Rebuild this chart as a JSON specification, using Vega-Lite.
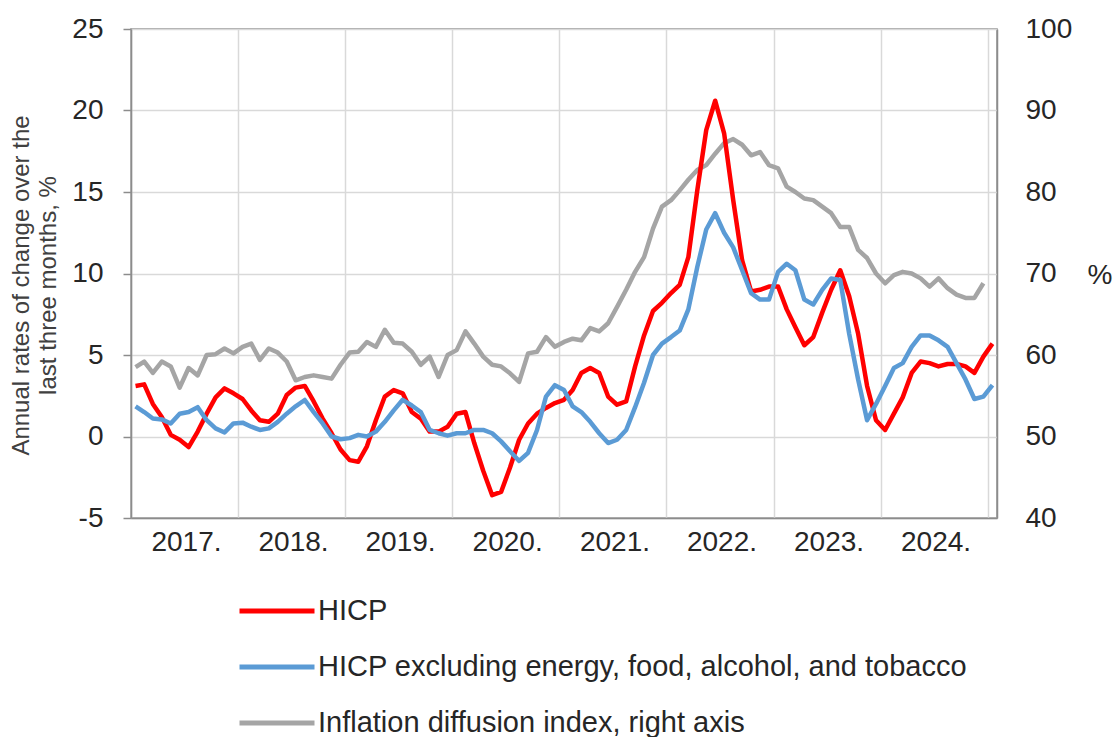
{
  "$schema": "https://vega.github.io/schema/vega-lite/v6.json",
  "width": 866,
  "height": 489,
  "autosize": {"type": "none"},
  "padding": {"left": 131, "top": 29, "right": 116, "bottom": 219},
  "background": "white",
  "config": {
    "font": "Liberation Sans",
    "view": {"stroke": "#8c8c8c", "strokeWidth": 1.5},
    "axis": {"labelColor": "#262626", "titleColor": "#404040", "labelFont": "Liberation Sans", "titleFont": "Liberation Sans", "titleFontWeight": "normal"}
  },
  "data": {"values": [
    {"month": "2017-01", "hicp": 3.1, "core": 1.85, "diff": 58.5},
    {"month": "2017-02", "hicp": 3.2, "core": 1.5, "diff": 59.2},
    {"month": "2017-03", "hicp": 2.0, "core": 1.1, "diff": 57.8},
    {"month": "2017-04", "hicp": 1.2, "core": 1.05, "diff": 59.2},
    {"month": "2017-05", "hicp": 0.1, "core": 0.8, "diff": 58.6},
    {"month": "2017-06", "hicp": -0.2, "core": 1.4, "diff": 56.0},
    {"month": "2017-07", "hicp": -0.65, "core": 1.5, "diff": 58.4},
    {"month": "2017-08", "hicp": 0.3, "core": 1.8, "diff": 57.5},
    {"month": "2017-09", "hicp": 1.4, "core": 1.0, "diff": 60.0},
    {"month": "2017-10", "hicp": 2.4, "core": 0.5, "diff": 60.1},
    {"month": "2017-11", "hicp": 2.95, "core": 0.25, "diff": 60.8},
    {"month": "2017-12", "hicp": 2.65, "core": 0.8, "diff": 60.2},
    {"month": "2018-01", "hicp": 2.3, "core": 0.85, "diff": 61.0},
    {"month": "2018-02", "hicp": 1.6, "core": 0.6, "diff": 61.4},
    {"month": "2018-03", "hicp": 1.0, "core": 0.4, "diff": 59.4},
    {"month": "2018-04", "hicp": 0.9, "core": 0.5, "diff": 60.8},
    {"month": "2018-05", "hicp": 1.4, "core": 0.9, "diff": 60.3},
    {"month": "2018-06", "hicp": 2.55, "core": 1.4, "diff": 59.2},
    {"month": "2018-07", "hicp": 3.0, "core": 1.85, "diff": 56.9},
    {"month": "2018-08", "hicp": 3.1, "core": 2.24, "diff": 57.3},
    {"month": "2018-09", "hicp": 2.15, "core": 1.5, "diff": 57.5},
    {"month": "2018-10", "hicp": 1.1, "core": 0.8, "diff": 57.3},
    {"month": "2018-11", "hicp": 0.2, "core": 0.0, "diff": 57.1},
    {"month": "2018-12", "hicp": -0.8, "core": -0.17, "diff": 58.8},
    {"month": "2019-01", "hicp": -1.45, "core": -0.1, "diff": 60.3},
    {"month": "2019-02", "hicp": -1.55, "core": 0.1, "diff": 60.4},
    {"month": "2019-03", "hicp": -0.6, "core": 0.0, "diff": 61.6},
    {"month": "2019-04", "hicp": 1.0, "core": 0.3, "diff": 61.0},
    {"month": "2019-05", "hicp": 2.45, "core": 0.9, "diff": 63.1},
    {"month": "2019-06", "hicp": 2.85, "core": 1.6, "diff": 61.5},
    {"month": "2019-07", "hicp": 2.65, "core": 2.25, "diff": 61.4},
    {"month": "2019-08", "hicp": 1.5, "core": 1.9, "diff": 60.4},
    {"month": "2019-09", "hicp": 1.1, "core": 1.5, "diff": 58.8},
    {"month": "2019-10", "hicp": 0.3, "core": 0.4, "diff": 59.8},
    {"month": "2019-11", "hicp": 0.3, "core": 0.2, "diff": 57.3},
    {"month": "2019-12", "hicp": 0.6, "core": 0.05, "diff": 60.0},
    {"month": "2020-01", "hicp": 1.4, "core": 0.2, "diff": 60.6},
    {"month": "2020-02", "hicp": 1.5, "core": 0.2, "diff": 62.9},
    {"month": "2020-03", "hicp": -0.4, "core": 0.4, "diff": 61.4},
    {"month": "2020-04", "hicp": -2.1, "core": 0.4, "diff": 59.8},
    {"month": "2020-05", "hicp": -3.6, "core": 0.2, "diff": 58.8},
    {"month": "2020-06", "hicp": -3.4, "core": -0.3, "diff": 58.6},
    {"month": "2020-07", "hicp": -1.9, "core": -0.9, "diff": 57.75},
    {"month": "2020-08", "hicp": -0.2, "core": -1.5, "diff": 56.7},
    {"month": "2020-09", "hicp": 0.8, "core": -1.0, "diff": 60.2},
    {"month": "2020-10", "hicp": 1.4, "core": 0.4, "diff": 60.4},
    {"month": "2020-11", "hicp": 1.75, "core": 2.45, "diff": 62.2},
    {"month": "2020-12", "hicp": 2.05, "core": 3.15, "diff": 61.0},
    {"month": "2021-01", "hicp": 2.25, "core": 2.85, "diff": 61.6},
    {"month": "2021-02", "hicp": 2.85, "core": 1.85, "diff": 62.0},
    {"month": "2021-03", "hicp": 3.9, "core": 1.5, "diff": 61.8},
    {"month": "2021-04", "hicp": 4.2, "core": 0.9, "diff": 63.3},
    {"month": "2021-05", "hicp": 3.9, "core": 0.2, "diff": 62.9},
    {"month": "2021-06", "hicp": 2.45, "core": -0.4, "diff": 63.9},
    {"month": "2021-07", "hicp": 1.95, "core": -0.2, "diff": 65.9},
    {"month": "2021-08", "hicp": 2.15, "core": 0.4, "diff": 68.0},
    {"month": "2021-09", "hicp": 4.3, "core": 1.8, "diff": 70.2},
    {"month": "2021-10", "hicp": 6.2, "core": 3.3, "diff": 72.0},
    {"month": "2021-11", "hicp": 7.7, "core": 5.0, "diff": 75.5},
    {"month": "2021-12", "hicp": 8.2, "core": 5.7, "diff": 78.2},
    {"month": "2022-01", "hicp": 8.8, "core": 6.1, "diff": 79.0},
    {"month": "2022-02", "hicp": 9.3, "core": 6.5, "diff": 80.2},
    {"month": "2022-03", "hicp": 11.0, "core": 7.8, "diff": 81.5},
    {"month": "2022-04", "hicp": 15.1, "core": 10.4, "diff": 82.7},
    {"month": "2022-05", "hicp": 18.8, "core": 12.7, "diff": 83.3},
    {"month": "2022-06", "hicp": 20.6, "core": 13.7, "diff": 84.7},
    {"month": "2022-07", "hicp": 18.6, "core": 12.5, "diff": 86.0},
    {"month": "2022-08", "hicp": 14.5, "core": 11.6, "diff": 86.5},
    {"month": "2022-09", "hicp": 10.8, "core": 10.2, "diff": 85.8},
    {"month": "2022-10", "hicp": 8.9, "core": 8.8, "diff": 84.5},
    {"month": "2022-11", "hicp": 9.0, "core": 8.4, "diff": 84.9},
    {"month": "2022-12", "hicp": 9.2, "core": 8.4, "diff": 83.3},
    {"month": "2023-01", "hicp": 9.2, "core": 10.1, "diff": 82.9},
    {"month": "2023-02", "hicp": 7.8, "core": 10.6, "diff": 80.65},
    {"month": "2023-03", "hicp": 6.7, "core": 10.2, "diff": 80.0},
    {"month": "2023-04", "hicp": 5.6, "core": 8.4, "diff": 79.2},
    {"month": "2023-05", "hicp": 6.1, "core": 8.1, "diff": 79.0},
    {"month": "2023-06", "hicp": 7.6, "core": 9.0, "diff": 78.2},
    {"month": "2023-07", "hicp": 9.0, "core": 9.7, "diff": 77.4},
    {"month": "2023-08", "hicp": 10.2, "core": 9.6, "diff": 75.7},
    {"month": "2023-09", "hicp": 8.6, "core": 6.3, "diff": 75.7},
    {"month": "2023-10", "hicp": 6.3, "core": 3.5, "diff": 72.9},
    {"month": "2023-11", "hicp": 3.1, "core": 1.0, "diff": 71.9},
    {"month": "2023-12", "hicp": 1.0, "core": 2.0, "diff": 70.0},
    {"month": "2024-01", "hicp": 0.4, "core": 3.1, "diff": 68.8},
    {"month": "2024-02", "hicp": 1.4, "core": 4.2, "diff": 69.8},
    {"month": "2024-03", "hicp": 2.4, "core": 4.5, "diff": 70.2},
    {"month": "2024-04", "hicp": 3.9, "core": 5.5, "diff": 70.0},
    {"month": "2024-05", "hicp": 4.6, "core": 6.2, "diff": 69.4},
    {"month": "2024-06", "hicp": 4.5, "core": 6.2, "diff": 68.4},
    {"month": "2024-07", "hicp": 4.3, "core": 5.9, "diff": 69.4},
    {"month": "2024-08", "hicp": 4.45, "core": 5.5, "diff": 68.2},
    {"month": "2024-09", "hicp": 4.45, "core": 4.5, "diff": 67.4},
    {"month": "2024-10", "hicp": 4.3, "core": 3.5, "diff": 67.0},
    {"month": "2024-11", "hicp": 3.9, "core": 2.3, "diff": 67.0},
    {"month": "2024-12", "hicp": 4.9, "core": 2.45, "diff": 68.8},
    {"month": "2025-01", "hicp": 5.7, "core": 3.15, "diff": null}
  ]},
  "transform": [{"fold": ["hicp", "core", "diff"], "as": ["series", "value"]}],
  "encoding": {
    "x": {
      "field": "month", "timeUnit": "utcyearmonth", "type": "temporal", "bandPosition": 0.5,
      "scale": {"domain": [{"year": 2017, "month": 1, "date": 1, "utc": true}, {"year": 2025, "month": 2, "date": 1, "utc": true}], "nice": false},
      "axis": {
        "title": null,
        "values": [
          {"year": 2017, "month": 1, "date": 1, "utc": true},
          {"year": 2018, "month": 1, "date": 1, "utc": true},
          {"year": 2019, "month": 1, "date": 1, "utc": true},
          {"year": 2020, "month": 1, "date": 1, "utc": true},
          {"year": 2021, "month": 1, "date": 1, "utc": true},
          {"year": 2022, "month": 1, "date": 1, "utc": true},
          {"year": 2023, "month": 1, "date": 1, "utc": true},
          {"year": 2024, "month": 1, "date": 1, "utc": true},
          {"year": 2025, "month": 1, "date": 1, "utc": true}
        ],
        "labelExpr": "utcFormat(datum.value, '%Y') == '2025' ? '' : utcFormat(datum.value, '%Y') + '.'",
        "labelOffset": 55,
        "labelPadding": 10,
        "labelFontSize": 28,
        "labelOverlap": false,
        "labelFlush": false,
        "labelBound": false,
        "ticks": false,
        "grid": true,
        "gridColor": "#d9d9d9",
        "gridWidth": 1.5,
        "domainColor": "#8c8c8c",
        "domainWidth": 1.5
      }
    },
    "color": {
      "field": "series", "type": "nominal",
      "scale": {"domain": ["hicp", "core", "diff"], "range": ["#ff0000", "#5b9bd5", "#a5a5a5"]},
      "legend": {
        "orient": "none",
        "legendX": 131,
        "legendY": 567,
        "direction": "vertical",
        "title": null,
        "padding": 0,
        "symbolType": "M-3,0H3",
        "symbolSize": 625,
        "symbolStrokeWidth": 5,
        "labelFontSize": 29,
        "labelColor": "#262626",
        "labelFont": "Liberation Sans",
        "labelOffset": 26,
        "labelLimit": 1000,
        "rowPadding": 26,
        "labelExpr": "datum.value === 'hicp' ? 'HICP' : datum.value === 'core' ? 'HICP excluding energy, food, alcohol, and tobacco' : 'Inflation diffusion index, right axis'"
      }
    }
  },
  "layer": [
    {
      "transform": [{"filter": "datum.series === 'diff' && isValid(datum.value)"}],
      "mark": {"type": "line", "strokeWidth": 4.5, "strokeJoin": "round"},
      "encoding": {
        "y": {
          "field": "value", "type": "quantitative",
          "scale": {"domain": [40, 100], "nice": false, "zero": false},
          "axis": {
            "orient": "right",
            "values": [40, 50, 60, 70, 80, 90, 100],
            "grid": false,
            "ticks": false,
            "domainColor": "#8c8c8c",
            "domainWidth": 1.5,
            "labelPadding": 28,
            "labelFontSize": 28,
            "title": "%",
            "titleAngle": 0,
            "titleFontSize": 28,
            "titleColor": "#262626",
            "titleX": 90,
            "titleY": 246,
            "titleAlign": "left",
            "titleBaseline": "middle"
          }
        }
      }
    },
    {
      "encoding": {
        "y": {
          "field": "value", "type": "quantitative",
          "scale": {"domain": [-5, 25], "nice": false, "zero": false},
          "axis": {
            "orient": "left",
            "values": [-5, 0, 5, 10, 15, 20, 25],
            "labelExpr": "'' + datum.value",
            "grid": true,
            "gridColor": "#d9d9d9",
            "gridWidth": 1.5,
            "ticks": true,
            "tickSize": 8,
            "tickColor": "#8c8c8c",
            "tickWidth": 1.5,
            "domainColor": "#8c8c8c",
            "domainWidth": 1.5,
            "labelPadding": 20,
            "labelFontSize": 28,
            "title": ["Annual rates of change over the", "last three months, %"],
            "titleFontSize": 24,
            "titleLineHeight": 27,
            "titleAngle": -90,
            "titleX": -122,
            "titleY": 256,
            "titleAlign": "center",
            "titleBaseline": "top"
          }
        }
      },
      "layer": [
        {
          "transform": [{"filter": "datum.series === 'hicp'"}],
          "mark": {"type": "line", "strokeWidth": 4.5, "strokeJoin": "round"}
        },
        {
          "transform": [{"filter": "datum.series === 'core'"}],
          "mark": {"type": "line", "strokeWidth": 4.5, "strokeJoin": "round"}
        }
      ]
    }
  ],
  "resolve": {"scale": {"y": "independent"}, "axis": {"y": "independent"}}
}
